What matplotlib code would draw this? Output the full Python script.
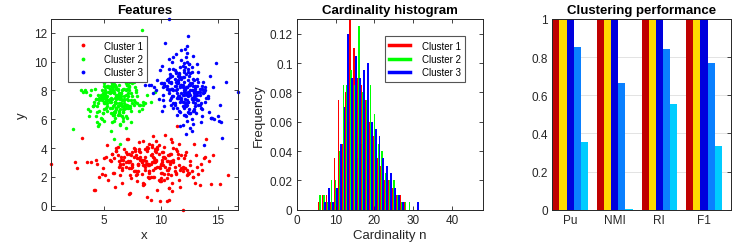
import matplotlib
matplotlib.use("Agg")
import matplotlib.pyplot as plt
from matplotlib.ticker import FuncFormatter
from matplotlib.lines import Line2D
import numpy as np

plt.rcParams['font.family'] = ['Liberation Sans', 'DejaVu Sans']

# ---------------- Data ----------------
cluster1_x = [8.7, 10.2, 6.4, 9.5, 11.8, 7.1, 9.9, 5.3, 12.6, 8.1,
              10.8, 7.6, 9.2, 13.4, 6.9, 8.4, 11.1, 4.6, 9.7, 10.5,
              7.9, 12.1, 8.9, 6.1, 10.0, 14.2, 7.4, 9.3, 11.5, 5.8,
              8.2, 10.7, 3.9, 9.0, 12.9, 7.7, 10.3, 6.6, 11.3, 8.6,
              9.6, 5.1, 10.9, 8.0, 13.1, 7.3, 9.4, 11.7, 6.2, 10.1,
              0.35, 8.8, 12.4, 7.0, 9.8, 4.9, 11.0, 8.3, 10.6, 6.8,
              9.1, 13.8, 7.5, 10.4, 5.6, 8.5, 12.2, 9.0, 6.5, 11.4,
              7.8, 10.0, 15.9, 8.7, 3.1, 11.9, 9.5, 6.0, 10.8, 7.2,
              12.7, 8.9, 5.5, 9.7, 11.2, 7.6, 4.2, 10.3, 8.1, 13.6,
              6.3, 9.3, 11.6, 8.4, 2.5, 10.9, 7.4, 12.0, 9.9, 5.9,
              11.9, 8.6, 6.7, 10.1, 14.6, 7.9, 9.2, 4.4, 11.1, 8.0,
              15.2, 9.6, 7.1, 10.6, 5.2, 12.3, 8.8, 6.9, 10.2, 9.4,
              7.7, 11.3, 2.6, 8.3, 13.0, 9.8, 6.4, 10.7, 4.1, 12.8,
              8.5, 10.4, 6.1, 14.0, 9.0, 7.3, 11.6, 5.7, 9.1, 10.0,
              3.5, 12.5, 8.2, 9.7, 6.6, 11.0, 7.5, 13.3, 10.5, 8.9,
              11.9, 10.5, 10.7, 7.2,
              9.4, 7.2, 10.6, 8.3, 11.4, 6.7, 9.0, 12.0, 8.6, 10.3,
              7.5, 9.8, 5.9, 10.9, 8.1, 12.8, 9.3, 6.3, 11.0, 8.8,
              10.1, 7.8, 9.6, 13.5, 8.4, 6.9, 10.7, 9.2, 11.8, 7.3,
              8.0, 10.4, 5.4, 9.5, 12.3, 8.7, 7.0, 10.0, 11.5, 9.1,
              6.5, 8.9, 10.8, 7.6, 9.7, 14.4, 8.2, 11.2, 6.1, 9.9,
              10.5, 7.4, 8.5, 12.6, 9.0, 4.8, 10.2, 8.0, 11.7, 7.9,
              9.3, 6.8, 10.9, 8.6, 13.2, 7.1, 9.6, 11.3, 5.7, 10.0,
              8.3, 12.1, 7.7, 9.4, 10.6, 6.4, 8.8, 11.9, 9.1, 7.5,
              10.3, 5.0, 9.8, 8.1, 12.4, 7.2, 10.7, 9.2, 6.6, 11.1,
              8.9, 13.9, 7.8, 10.1, 9.5, 4.3, 8.4, 11.6, 6.2, 9.0]
cluster1_y = [2.9, 3.4, 2.1, 3.8, 2.6, 3.1, 1.7, 4.2, 2.8, 3.3,
              3.6, 2.4, 3.0, 1.4, 2.7, 4.5, 3.2, 2.0, 3.9, 2.5,
              2.2, 3.5, 2.9, 4.0, 1.9, 3.1, 2.6, 4.8, 3.3, 2.3,
              3.7, 1.2, 3.0, 2.8, 4.3, 2.4, 3.4, 1.6, 3.9, 2.7,
              3.2, 2.1, 4.6, 2.9, 3.5, 0.9, 3.1, 2.5, 4.1, 3.0,
              2.9, 3.8, 2.3, 3.6, 1.8, 2.6, 4.4, 3.0, 2.2, 3.4,
              2.0, 3.3, 2.7, 4.9, 3.1, 1.5, 3.7, 2.4, 3.2, 5.5,
              3.5, 2.8, 2.1, 3.9, 4.7, 2.6, 3.0, 1.3, 2.9, 3.6,
              2.4, 4.0, 3.2, 1.1, 2.7, 3.4, 1.1, 2.2, 3.8, 2.5,
              3.1, 2.0, 4.3, 2.8, 3.0, 3.6, 1.9, 2.6, 0.3, 3.3,
              2.7, 3.9, 3.2, 2.3, 3.5, 1.7, 4.1, 2.9, 3.0, 2.4,
              1.5, 3.1, 4.6, 2.5, 3.4, 2.1, 0.6, 3.7, 2.8, 3.3,
              3.9, 2.2, 2.6, 3.0, 1.6, 4.2, 2.9, 3.5, 1.1, 2.0,
              3.2, 2.7, 3.8, 4.6, 2.4, 3.1, 1.8, 3.6, 0.4, 2.9,
              3.0, 2.3, 3.4, 4.1, 2.6, 1.0, 3.7, 2.2, 3.1, 2.8,
              -0.28, 0.35, 0.4, 0.8,
              3.0, 2.6, 3.5, 2.2, 3.8, 2.9, 1.9, 3.3, 2.5, 4.1,
              2.8, 3.6, 2.3, 3.1, 4.4, 2.0, 3.4, 2.7, 1.6, 3.9,
              3.2, 2.4, 3.7, 2.9, 1.4, 3.0, 2.6, 4.2, 3.5, 2.1,
              2.8, 3.3, 1.8, 3.9, 2.5, 3.1, 4.6, 2.3, 3.6, 2.9,
              3.4, 2.0, 3.0, 4.0, 2.7, 1.5, 3.2, 2.4, 3.8, 2.6,
              1.9, 3.5, 2.8, 3.1, 4.3, 2.2, 3.7, 2.9, 1.3, 3.3,
              2.5, 3.9, 2.1, 3.4, 2.7, 3.0, 4.5, 2.3, 3.6, 1.7,
              3.2, 2.6, 3.8, 2.0, 3.1, 2.8, 4.1, 2.4, 3.5, 2.9,
              1.8, 3.3, 2.7, 3.9, 2.2, 3.0, 1.2, 3.6, 2.5, 4.0,
              2.9, 3.4, 2.1, 3.7, 2.6, 3.2, 1.6, 2.8, 3.5, 2.3]

cluster2_x = [6.1, 5.4, 7.2, 4.8, 6.6, 5.9, 7.8, 5.1, 6.3, 4.3,
              5.7, 6.9, 3.9, 6.2, 5.0, 7.5, 6.0, 4.6, 8.1, 5.5,
              6.8, 4.1, 5.8, 7.0, 5.2, 6.4, 3.4, 6.7, 5.6, 7.4,
              4.9, 6.5, 5.3, 8.6, 6.0, 4.4, 7.1, 5.7, 6.2, 3.0,
              7.7, 5.9, 4.7, 6.4, 5.1, 6.9, 8.3, 5.4, 6.1, 4.5,
              5.6, 7.3, 6.3, 2.3, 5.8, 6.6, 4.9, 7.9, 5.0, 6.8,
              6.0, 4.2, 7.6, 5.5, 6.5, 3.7, 5.9, 7.0, 4.6, 6.2,
              8.8, 5.3, 6.7, 5.0, 7.2, 5.8, 4.0, 6.4, 9.1, 5.7,
              6.9, 4.8, 6.1, 7.5, 5.2, 6.6, 3.2, 5.9, 7.1, 5.4,
              4.4, 6.3, 8.0, 5.6, 6.8, 5.1, 7.4, 4.7, 6.0, 5.8,
              7.0, 5.5, 3.6, 6.5, 5.9, 8.4, 4.9, 6.2, 5.3, 7.7,
              5.0, 6.7, 6.1, 4.3, 7.3, 5.7, 6.4, 9.5, 5.2, 6.0,
              6.6, 3.8, 5.4, 7.1, 4.6, 6.9, 5.8, 8.2, 6.3, 5.1,
              5.9, 7.6, 4.1, 6.0, 5.5, 6.8, 4.8, 7.2, 5.6, 6.5,
              5.0, 5.3, 6.2, 4.5, 7.0, 5.8, 6.6, 3.3, 6.1, 8.3,
              6.2, 5.5, 6.8, 4.9, 6.0, 7.1, 5.3, 6.5, 5.8, 7.6,
              4.6, 6.3, 5.1, 6.9, 5.7, 6.1, 7.3, 4.3, 6.6, 5.4,
              5.9, 7.0, 5.0, 6.4, 8.0, 5.6, 6.7, 4.8, 6.2, 5.3,
              7.4, 6.0, 5.2, 6.9, 4.5, 6.3, 5.8, 7.8, 5.5, 6.6,
              6.1, 4.7, 7.2, 5.9, 6.4, 5.1, 6.8, 3.8, 6.0, 5.6,
              7.5, 5.4, 6.2, 4.9, 6.7, 5.7, 7.0, 6.3, 5.0, 8.4,
              5.8, 6.5, 4.4, 6.1, 7.2, 5.3, 6.9, 5.6, 6.0, 4.8,
              6.6, 5.2, 7.7, 5.9, 6.3, 4.2, 6.8, 5.5, 7.1, 6.0,
              5.1, 6.4, 5.7, 8.1, 6.2, 4.6, 6.7, 5.4, 7.4, 5.9,
              6.5, 5.0, 6.1, 7.9, 5.3, 6.9, 4.0, 6.4, 5.8, 7.0]
cluster2_y = [7.6, 8.2, 6.9, 7.3, 8.7, 6.5, 7.9, 7.1, 8.4, 6.2,
              7.4, 6.8, 8.0, 7.7, 5.9, 8.5, 7.2, 9.1, 6.6, 7.8,
              8.1, 7.0, 6.3, 8.8, 7.5, 5.6, 7.9, 6.7, 9.4, 7.3,
              6.4, 7.8, 8.3, 7.1, 9.8, 6.9, 7.6, 5.8, 8.0, 8.0,
              7.2, 8.6, 6.1, 7.5, 8.9, 7.0, 6.7, 8.2, 7.4, 5.5,
              8.3, 6.8, 7.7, 5.3, 7.9, 9.2, 6.4, 7.1, 8.5, 7.6,
              6.6, 8.1, 7.3, 9.6, 7.0, 6.2, 7.8, 8.4, 5.7, 7.5,
              7.7, 8.9, 6.5, 7.2, 8.0, 10.1, 6.9, 7.4, 7.2, 8.6,
              7.0, 6.0, 8.2, 7.6, 6.8, 9.0, 7.9, 4.6, 7.3, 8.3,
              5.8, 7.5, 8.7, 6.4, 7.1, 8.0, 6.6, 7.7, 10.6, 6.9,
              8.4, 7.2, 6.7, 7.8, 5.9, 7.0, 8.8, 6.3, 7.6, 9.3,
              7.1, 6.5, 8.1, 7.4, 6.9, 8.5, 4.3, 7.9, 7.3, 6.1,
              8.0, 7.7, 9.7, 6.8, 7.5, 5.4, 8.2, 7.0, 6.6, 7.8,
              6.3, 8.6, 7.2, 11.2, 7.9, 6.7, 7.4, 8.3, 5.2, 7.1,
              7.5, 9.0, 6.9, 7.7, 8.1, 6.4, 7.3, 8.0, 6.8, 12.2,
              7.5, 8.1, 6.9, 7.8, 7.2, 8.4, 6.6, 7.6, 8.0, 7.0,
              7.3, 6.4, 8.2, 7.7, 6.8, 7.1, 8.6, 7.4, 6.2, 7.9,
              8.3, 7.0, 7.6, 6.7, 8.8, 7.2, 5.9, 7.5, 8.1, 6.9,
              7.8, 6.5, 7.3, 8.5, 7.1, 7.7, 6.3, 8.0, 7.4, 9.0,
              6.8, 7.6, 8.2, 7.0, 5.7, 7.9, 7.3, 6.6, 8.4, 7.5,
              7.1, 8.7, 6.9, 7.6, 6.1, 8.1, 7.4, 7.8, 6.7, 7.2,
              8.3, 7.0, 6.5, 7.7, 8.6, 7.3, 6.2, 7.9, 7.5, 8.0,
              6.9, 7.6, 8.2, 6.4, 7.1, 8.9, 7.4, 6.8, 7.8, 7.2,
              7.7, 6.3, 8.5, 7.0, 7.5, 6.6, 8.1, 7.3, 5.8, 7.9,
              7.4, 8.3, 6.7, 7.6, 7.1, 8.0, 6.9, 7.5, 8.4, 6.1]

cluster3_x = [12.1, 11.4, 12.8, 10.9, 13.3, 11.8, 12.5, 10.3, 13.9, 11.6,
              12.3, 13.0, 11.1, 12.7, 9.8, 12.0, 14.4, 11.5, 12.9, 10.7,
              11.9, 13.5, 12.2, 10.1, 12.6, 11.3, 15.1, 12.4, 10.8, 13.2,
              12.0, 11.7, 9.3, 12.8, 13.7, 11.2, 12.3, 14.0, 10.5, 11.9,
              13.1, 12.5, 11.0, 16.8, 12.1, 10.6, 13.4, 11.6, 12.7, 9.6,
              11.4, 12.9, 13.8, 11.8, 10.2, 12.4, 11.1, 14.7, 12.6, 11.5,
              12.2, 10.9, 13.3, 12.0, 8.6, 11.7, 13.0, 12.5, 10.4, 14.2,
              11.3, 12.8, 11.9, 13.6, 10.7, 12.3, 15.4, 11.6, 12.1, 9.1,
              13.2, 11.0, 12.6, 10.0, 12.4, 14.8, 11.8, 13.0, 11.4, 12.7,
              10.6, 12.2, 13.5, 11.2, 12.9, 9.9, 10.7, 14.5, 11.5, 13.1,
              12.4, 11.7, 10.3, 12.8, 13.9, 11.1, 15.7, 12.3, 10.8, 12.6,
              11.9, 13.4, 12.1, 9.4, 12.5, 11.3, 13.7, 10.1, 12.0, 14.1,
              12.7, 10.5, 11.6, 13.2, 12.2, 15.0, 11.0, 12.9, 11.8, 13.6,
              9.0, 12.3, 13.0, 11.4, 10.7, 12.6, 14.3, 11.9, 12.1, 10.2,
              13.3, 11.7, 12.4, 10.9, 13.8, 12.0, 11.2, 15.3, 12.8, 10.7,
              12.2, 11.6, 12.9, 11.1, 12.5, 13.4, 11.8, 12.0, 10.6, 12.7,
              11.3, 13.1, 12.4, 10.9, 11.9, 13.7, 12.1, 11.5, 12.8, 10.3,
              12.6, 11.7, 13.3, 12.3, 11.0, 14.1, 12.0, 11.4, 12.9, 10.8,
              11.8, 13.0, 12.5, 11.2, 12.2, 13.6, 10.5, 12.7, 11.6, 13.2,
              12.1, 11.3, 14.4, 12.4, 11.9, 10.1, 12.8, 11.5, 13.5, 12.0,
              11.1, 12.6, 13.0, 11.7, 12.3, 9.7, 12.9, 11.4, 13.8, 12.2,
              11.8, 12.5, 10.7, 13.1, 12.0, 11.6, 14.6, 12.4, 11.2, 12.7,
              13.3, 11.9, 12.1, 10.4, 12.8, 11.5, 13.6, 12.3, 11.0, 12.6,
              12.0, 13.9, 11.7, 12.5, 10.9, 13.2, 12.2, 11.3, 12.9, 11.8,
              15.2, 12.4, 11.1, 13.4, 12.0, 10.2, 12.7, 11.6, 13.0, 12.3]
cluster3_y = [8.1, 7.5, 8.8, 7.0, 9.3, 7.8, 6.4, 8.5, 7.2, 9.0,
              7.7, 8.3, 6.8, 9.6, 7.4, 8.0, 6.1, 8.7, 7.9, 10.2,
              8.4, 7.1, 9.1, 6.6, 8.0, 10.5, 5.9, 7.6, 8.9, 7.3,
              9.4, 8.2, 7.8, 5.7, 8.6, 7.0, 10.0, 7.5, 8.3, 6.9,
              7.4, 9.8, 8.1, 7.9, 6.3, 8.8, 7.7, 9.2, 5.2, 8.0,
              8.5, 6.7, 7.9, 10.8, 8.2, 7.2, 9.5, 6.0, 8.4, 7.6,
              6.9, 8.6, 7.3, 9.9, 8.4, 5.5, 8.1, 7.8, 11.3, 6.5,
              8.3, 7.4, 9.7, 6.2, 8.0, 10.6, 4.7, 8.9, 7.1, 8.4,
              7.7, 9.0, 6.4, 8.5, 11.8, 9.9, 7.5, 8.2, 6.8, 9.3,
              8.8, 7.1, 5.8, 8.3, 7.6, 9.4, 12.95, 6.1, 8.6, 7.9,
              7.2, 9.6, 8.4, 6.6, 8.0, 10.3, 8.6, 7.3, 9.1, 5.4,
              8.9, 7.0, 10.9, 8.2, 6.7, 9.2, 7.8, 8.5, 6.3, 7.5,
              6.0, 8.7, 7.6, 9.8, 5.0, 6.2, 8.1, 7.4, 10.1, 8.3,
              8.4, 11.1, 6.9, 7.8, 9.5, 6.4, 9.0, 5.6, 8.0, 7.7,
              7.9, 6.5, 9.3, 8.1, 4.2, 7.2, 8.8, 5.8, 10.4, 8.6,
              8.2, 7.6, 8.7, 7.1, 9.0, 7.9, 8.4, 6.8, 8.1, 7.4,
              9.3, 7.8, 6.5, 8.5, 7.2, 8.0, 9.6, 7.5, 8.3, 6.9,
              7.7, 8.9, 7.0, 8.2, 10.0, 7.6, 8.6, 6.3, 8.0, 7.3,
              8.8, 7.1, 8.4, 9.4, 7.8, 6.7, 8.1, 7.5, 9.1, 8.3,
              7.4, 8.6, 6.1, 7.9, 8.2, 9.7, 7.2, 8.5, 6.8, 7.7,
              8.0, 9.2, 7.6, 8.3, 7.0, 8.7, 6.6, 8.1, 7.9, 10.3,
              7.3, 8.4, 7.8, 6.4, 8.9, 7.5, 8.2, 9.5, 7.1, 8.0,
              8.6, 7.7, 6.9, 8.3, 7.4, 9.0, 8.1, 5.9, 7.6, 8.5,
              7.9, 8.2, 7.2, 9.8, 7.5, 8.8, 6.2, 8.0, 7.8, 8.4,
              7.0, 8.7, 7.6, 8.1, 9.3, 7.3, 8.5, 6.6, 7.9, 8.2]

cardinality_n = list(range(6, 32))
freq_cluster1 = [0.005, 0.01, 0.01, 0.005, 0.035, 0.075, 0.045, 0.08, 0.135, 0.11,
                 0.09, 0.085, 0.075, 0.06, 0.05, 0.035, 0.03, 0.02, 0.02, 0.015,
                 0.01, 0.01, 0.005, 0.0, 0.0, 0.0]
freq_cluster2 = [0.01, 0.01, 0.005, 0.02, 0.02, 0.04, 0.085, 0.085, 0.095, 0.085,
                 0.125, 0.08, 0.075, 0.085, 0.065, 0.045, 0.04, 0.025, 0.02, 0.02,
                 0.01, 0.005, 0.005, 0.005, 0.0, 0.0]
freq_cluster3 = [0.0, 0.005, 0.015, 0.005, 0.015, 0.045, 0.07, 0.12, 0.09, 0.105,
                 0.09, 0.095, 0.1, 0.06, 0.055, 0.05, 0.035, 0.03, 0.025, 0.015,
                 0.01, 0.005, 0.0, 0.0, 0.0, 0.005]

metrics = ['Pu', 'NMI', 'RI', 'F1']
perf_series = [
    [1.0, 1.0, 1.0, 1.0],
    [1.0, 1.0, 1.0, 1.0],
    [1.0, 1.0, 1.0, 1.0],
    [0.855, 0.665, 0.845, 0.77],
    [0.355, 0.003, 0.553, 0.333],
]
perf_colors = ['#c00000', '#ffd800', '#0000dd', '#0a80ff', '#00ccff']

cluster_labels = ['Cluster 1', 'Cluster 2', 'Cluster 3']
cluster_colors = ['#ff0000', '#00ff00', '#0000ff']

# ---------------- Figure ----------------
W, H = 736, 251
fig = plt.figure(figsize=(W / 100, H / 100), dpi=100)
axc = '#262626'

def style(ax):
    for s in ax.spines.values():
        s.set_color(axc)
        s.set_linewidth(0.7)
    ax.tick_params(direction='in', top=True, right=True, length=3, width=0.6,
                   colors=axc, labelsize=8.5, pad=3)

def pos(l, r, t, b):
    return [l / W, 1 - b / H, (r - l) / W, (b - t) / H]

gfmt = FuncFormatter(lambda v, p: f"{v:g}")

# Panel 1: scatter
ax1 = fig.add_axes(pos(51, 238.3, 20, 210.7))
for xs, ys, c, lab in zip([cluster1_x, cluster2_x, cluster3_x],
                          [cluster1_y, cluster2_y, cluster3_y],
                          cluster_colors, cluster_labels):
    ax1.plot(xs, ys, 'o', ms=2.5, mew=0, color=c, label=lab, clip_on=False)
ax1.set_xlim(0.35, 16.8)
ax1.set_ylim(-0.28, 12.95)
ax1.set_xticks([5, 10, 15])
ax1.set_yticks([0, 2, 4, 6, 8, 10, 12])
ax1.yaxis.set_major_formatter(gfmt)
style(ax1)
ax1.set_title('Features', fontsize=9.5, fontweight='bold', pad=4)
ax1.set_xlabel('x', fontsize=9.5, color=axc, labelpad=2)
ax1.set_ylabel('y', fontsize=9.5, color=axc, labelpad=4)
leg1 = ax1.legend(loc='upper left', bbox_to_anchor=(0.065, 0.935), fontsize=7,
                  markerscale=1.1, frameon=True, fancybox=False, edgecolor='#555555',
                  handletextpad=1.0, borderpad=0.45, labelspacing=0.35, handlelength=2.2,
                  framealpha=1)
leg1.get_frame().set_linewidth(0.8)

# Panel 2: histogram (grouped bars; blue drawn last and slightly wider)
ax2 = fig.add_axes(pos(296.7, 483.3, 20, 210.7))
n = np.array(cardinality_n, dtype=float)
hist_offsets = [-0.3, 0.0, 0.3]
hist_widths = [0.4, 0.4, 0.5]
for fr, c, o, wd in zip([freq_cluster1, freq_cluster2, freq_cluster3], cluster_colors,
                        hist_offsets, hist_widths):
    ax2.bar(n + o, fr, width=wd, color=c, edgecolor='none', linewidth=0)
ax2.set_xlim(0, 48)
ax2.set_ylim(0, 0.13)
ax2.set_xticks([0, 10, 20, 30, 40])
ax2.set_yticks([0, 0.02, 0.04, 0.06, 0.08, 0.1, 0.12])
ax2.yaxis.set_major_formatter(gfmt)
style(ax2)
ax2.set_title('Cardinality histogram', fontsize=9.5, fontweight='bold', pad=4)
ax2.set_xlabel('Cardinality n', fontsize=9.5, color=axc, labelpad=2)
ax2.set_ylabel('Frequency', fontsize=9.5, color=axc, labelpad=3)
handles = [Line2D([], [], color=c, lw=2.5) for c in cluster_colors]
leg2 = ax2.legend(handles, cluster_labels, loc='upper right', bbox_to_anchor=(0.93, 0.935),
                  fontsize=7, frameon=True, fancybox=False, edgecolor='#555555',
                  handletextpad=1.2, borderpad=0.45, labelspacing=0.35, handlelength=2.2,
                  framealpha=1)
leg2.get_frame().set_linewidth(0.8)

# Panel 3: performance
ax3 = fig.add_axes(pos(552.3, 730.7, 20, 210.7))
g = np.arange(1, len(metrics) + 1)
nb = len(perf_series)
w = 0.8 / nb
for k, (vals, c) in enumerate(zip(perf_series, perf_colors)):
    ax3.bar(g + (k - (nb - 1) / 2) * w, vals, width=w, color=c, edgecolor='none', zorder=2)
ax3.set_xlim(0.6, 4.6)
ax3.set_ylim(0, 1)
ax3.set_xticks(g)
ax3.set_xticklabels(metrics)
ax3.set_yticks([0, 0.2, 0.4, 0.6, 0.8, 1])
ax3.yaxis.set_major_formatter(gfmt)
ax3.yaxis.grid(True, color='#e3e3e3', linewidth=0.7, zorder=0)
ax3.set_axisbelow(True)
style(ax3)
ax3.tick_params(axis='x', length=0)
ax3.set_title('Clustering performance', fontsize=9.5, fontweight='bold', pad=4)

fig.savefig('out.png', dpi=100)
